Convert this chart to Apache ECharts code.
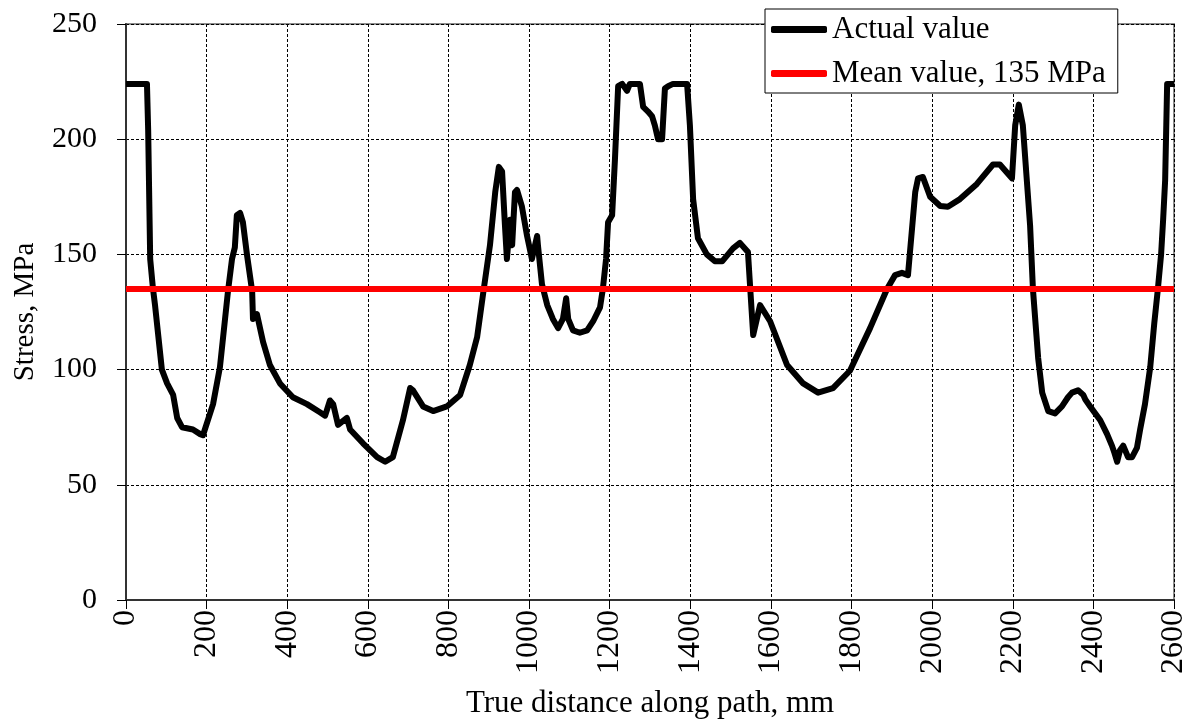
<!DOCTYPE html>
<html style="height: 100%">
    <head>
        <meta charset="utf-8">
    </head>
    <body style="height: 100%; margin: 0; background: #fff">
        <div id="container" style="height: 724px; width: 1196px;"></div>
        <script type="text/javascript" src="https://cdn.jsdelivr.net/npm/echarts@6/dist/echarts.min.js"></script>
        <script type="text/javascript">
// distance along path (mm) and stress (MPa)
const distance = [
    0, 52, 55, 60, 67, 72, 89, 102, 117, 127, 139, 166, 184, 191, 216, 233, 253, 263, 270, 275,
    283, 290, 300, 313, 315, 325, 340, 357, 382, 414, 449, 481, 494, 506, 514, 526, 548, 556, 588, 623,
    643, 662, 687, 705, 712, 737, 762, 796, 829, 853, 871, 886, 903, 916, 925, 933, 940, 945, 953, 958,
    965, 970, 982, 995, 1007, 1020, 1022, 1032, 1045, 1059, 1072, 1084, 1092, 1097, 1109, 1126, 1144, 1159, 1176, 1183,
    1191, 1196, 1206, 1213, 1221, 1231, 1243, 1250, 1275, 1283, 1295, 1305, 1312, 1320, 1330, 1337, 1345, 1357, 1392, 1399,
    1407, 1419, 1441, 1461, 1479, 1506, 1523, 1543, 1548, 1556, 1573, 1598, 1640, 1680, 1717, 1754, 1796, 1846, 1888, 1908,
    1925, 1940, 1945, 1958, 1965, 1977, 1995, 2020, 2039, 2069, 2111, 2151, 2168, 2193, 2198, 2206, 2215, 2225, 2243, 2250,
    2263, 2273, 2288, 2305, 2322, 2337, 2347, 2362, 2375, 2380, 2392, 2417, 2434, 2446, 2452, 2459, 2466, 2474, 2486, 2496,
    2508, 2516, 2528, 2541, 2551, 2560, 2568, 2573, 2578, 2583, 2600
];
const stress = [
    224, 224, 204, 148, 135, 128, 100, 94, 89, 79, 75, 74, 72, 71.5, 85, 101, 134, 148, 153, 167,
    168, 164, 150, 134, 122, 124, 112, 102, 94, 88, 85, 81.5, 80, 86.6, 85, 76, 79, 74, 68, 62,
    60, 62, 78, 92, 91, 84, 82, 84, 89, 102, 114, 133, 154, 177, 188, 186, 163, 148, 165, 154,
    177, 178, 171, 158, 148, 158, 154, 137, 128, 122, 118, 122, 131, 122, 117, 116, 117, 121, 127, 135,
    148, 164, 167, 191, 223, 224, 221, 224, 224, 214, 212, 210, 206, 200, 200, 222, 223, 224, 224, 206,
    174, 157, 150, 147, 147, 152.6, 155, 151, 137, 115, 128, 121, 102, 94, 90, 92, 99.5, 118, 135, 141,
    142, 141, 151, 177, 183, 183.6, 175, 171, 170.7, 174, 180.6, 189, 189, 184, 183, 206, 215, 206, 162.5, 135,
    105, 90, 82, 81, 84, 88, 90, 91, 89, 87, 84, 78, 72, 67, 64, 60, 65, 67, 62, 62,
    66, 74, 85, 101, 120, 135, 150, 165, 182, 224, 224
];
const meanValue = 135;
const xTicks = { min: 0, max: 2600, interval: 200 };
const yTicks = { min: 0, max: 250, interval: 50 };

var dom = document.getElementById("container");
var myChart = echarts.init(dom);
var font = "'Liberation Serif', 'Times New Roman', serif";

var actual = distance.map(function (d, i) {
    return [d, stress[i]];
});

var option = {
    animation: false,
    grid: {
        left: 126,
        right: 22,
        top: 24,
        bottom: 120,
        show: true,
        borderColor: '#8c8c8c',
        borderWidth: 2
    },
    legend: {
        left: 765,
        top: 9,
        orient: 'vertical',
        itemWidth: 56,
        itemHeight: 7,
        itemGap: 13,
        padding: [5, 12, 4, 6],
        borderColor: '#000',
        borderWidth: 1,
        backgroundColor: '#fff',
        textStyle: { fontFamily: font, fontSize: 31, color: '#000' },
        data: [
            { name: 'Actual value', icon: 'roundRect' },
            { name: 'Mean value, 135 MPa', icon: 'roundRect' }
        ]
    },
    xAxis: {
        type: 'value',
        min: xTicks.min,
        max: xTicks.max,
        interval: xTicks.interval,
        name: 'True distance along path, mm',
        nameLocation: 'middle',
        nameGap: 88,
        nameTextStyle: { fontFamily: font, fontSize: 31, color: '#000' },
        axisLine: { show: true, lineStyle: { color: '#333', width: 2 } },
        axisTick: { show: true, inside: false, length: 9, lineStyle: { color: '#000' } },
        axisLabel: {
            rotate: 90, margin: 10, fontFamily: font, fontSize: 32, color: '#000',
            formatter: function (v) { return String(v); }
        },
        splitLine: { show: true, lineStyle: { color: '#000', type: [3, 2], width: 1 } }
    },
    yAxis: {
        type: 'value',
        min: yTicks.min,
        max: yTicks.max,
        interval: yTicks.interval,
        name: 'Stress, MPa',
        nameLocation: 'middle',
        nameGap: 86,
        nameTextStyle: { fontFamily: font, fontSize: 29, color: '#000' },
        axisLine: { show: true, lineStyle: { color: '#333', width: 2 } },
        axisTick: { show: true, inside: false, length: 9, lineStyle: { color: '#000' } },
        axisLabel: { margin: 29, fontFamily: font, fontSize: 30, color: '#000' },
        splitLine: { show: true, lineStyle: { color: '#000', type: [3, 2], width: 1 } }
    },
    series: [
        {
            name: 'Actual value',
            type: 'line',
            data: actual,
            showSymbol: false,
            symbol: 'none',
            lineStyle: { color: '#000', width: 6, cap: 'butt', join: 'round' },
            itemStyle: { color: '#000' },
            z: 3
        },
        {
            name: 'Mean value, 135 MPa',
            type: 'line',
            data: [[xTicks.min, meanValue], [xTicks.max, meanValue]],
            showSymbol: false,
            symbol: 'none',
            lineStyle: { color: '#ff0000', width: 6 },
            itemStyle: { color: '#ff0000' },
            z: 4
        }
    ]
};

myChart.setOption(option);
        </script>
    </body>
</html>
